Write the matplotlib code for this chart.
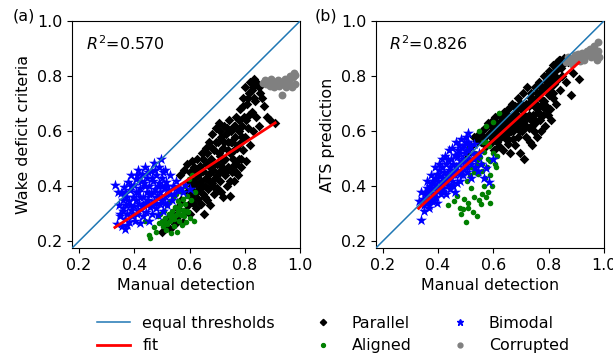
import numpy as np
import matplotlib
matplotlib.use("Agg")
import matplotlib.pyplot as plt
from matplotlib.lines import Line2D

plt.rcParams["font.size"] = 11.4

# (manual, wake deficit criteria, ATS prediction) per wake class
parallel = np.array([
    (0.500, 0.232, 0.500), (0.510, 0.250, 0.520), (0.520, 0.280, 0.545), (0.530, 0.245, 0.580),
    (0.540, 0.300, 0.565), (0.548, 0.262, 0.590), (0.555, 0.320, 0.560), (0.560, 0.290, 0.600),
    (0.565, 0.440, 0.575), (0.570, 0.350, 0.610), (0.575, 0.270, 0.545), (0.580, 0.460, 0.630),
    (0.585, 0.310, 0.590), (0.590, 0.380, 0.555), (0.592, 0.480, 0.620), (0.595, 0.330, 0.600),
    (0.598, 0.420, 0.640), (0.600, 0.300, 0.570), (0.602, 0.450, 0.530), (0.605, 0.360, 0.610),
    (0.608, 0.400, 0.650), (0.610, 0.490, 0.590), (0.612, 0.340, 0.560), (0.615, 0.430, 0.630),
    (0.618, 0.375, 0.600), (0.620, 0.460, 0.545), (0.622, 0.320, 0.660), (0.625, 0.410, 0.620),
    (0.628, 0.500, 0.580), (0.630, 0.355, 0.640), (0.632, 0.440, 0.600), (0.635, 0.390, 0.530),
    (0.638, 0.475, 0.670), (0.640, 0.335, 0.610), (0.642, 0.420, 0.575), (0.645, 0.520, 0.650),
    (0.648, 0.370, 0.630), (0.650, 0.455, 0.590), (0.652, 0.300, 0.555), (0.655, 0.400, 0.680),
    (0.658, 0.540, 0.620), (0.660, 0.430, 0.520), (0.662, 0.350, 0.650), (0.665, 0.480, 0.600),
    (0.668, 0.390, 0.700), (0.670, 0.560, 0.640), (0.672, 0.445, 0.570), (0.675, 0.330, 0.620),
    (0.678, 0.500, 0.690), (0.680, 0.410, 0.550), (0.682, 0.590, 0.660), (0.685, 0.460, 0.610),
    (0.688, 0.370, 0.720), (0.690, 0.530, 0.580), (0.692, 0.430, 0.650), (0.695, 0.610, 0.700),
    (0.698, 0.480, 0.520), (0.700, 0.395, 0.630), (0.702, 0.560, 0.680), (0.705, 0.450, 0.600),
    (0.708, 0.630, 0.740), (0.710, 0.510, 0.500), (0.712, 0.420, 0.660), (0.715, 0.580, 0.620),
    (0.718, 0.470, 0.700), (0.720, 0.360, 0.580), (0.722, 0.540, 0.760), (0.725, 0.620, 0.650),
    (0.728, 0.440, 0.610), (0.730, 0.500, 0.690), (0.732, 0.590, 0.560), (0.735, 0.400, 0.720),
    (0.738, 0.560, 0.640), (0.740, 0.470, 0.550), (0.742, 0.640, 0.700), (0.745, 0.520, 0.660),
    (0.748, 0.365, 0.600), (0.750, 0.600, 0.760), (0.752, 0.450, 0.630), (0.755, 0.560, 0.700),
    (0.758, 0.500, 0.580), (0.760, 0.620, 0.740), (0.762, 0.420, 0.670), (0.765, 0.580, 0.780),
    (0.768, 0.480, 0.640), (0.770, 0.650, 0.720), (0.772, 0.540, 0.600), (0.775, 0.440, 0.690),
    (0.778, 0.600, 0.760), (0.780, 0.500, 0.660), (0.782, 0.680, 0.800), (0.785, 0.560, 0.710),
    (0.788, 0.470, 0.620), (0.790, 0.620, 0.750), (0.792, 0.720, 0.690), (0.795, 0.530, 0.780),
    (0.798, 0.650, 0.660), (0.800, 0.580, 0.820), (0.802, 0.760, 0.730), (0.805, 0.490, 0.680),
    (0.808, 0.700, 0.790), (0.810, 0.610, 0.640), (0.815, 0.740, 0.840), (0.818, 0.550, 0.720),
    (0.820, 0.780, 0.770), (0.825, 0.670, 0.820), (0.828, 0.600, 0.700), (0.830, 0.760, 0.850),
    (0.835, 0.790, 0.790), (0.838, 0.710, 0.860), (0.840, 0.650, 0.750), (0.845, 0.770, 0.830),
    (0.850, 0.620, 0.800), (0.855, 0.740, 0.865), (0.862, 0.720, 0.780), (0.870, 0.690, 0.850),
    (0.880, 0.650, 0.730), (0.890, 0.640, 0.810), (0.910, 0.630, 0.790),
    (0.615, 0.470, 0.615), (0.625, 0.380, 0.590), (0.635, 0.450, 0.640), (0.645, 0.400, 0.600),
    (0.650, 0.500, 0.660), (0.655, 0.360, 0.570), (0.665, 0.520, 0.630), (0.670, 0.420, 0.600),
    (0.675, 0.470, 0.660), (0.680, 0.540, 0.620), (0.685, 0.400, 0.680), (0.690, 0.480, 0.640),
    (0.695, 0.560, 0.600), (0.700, 0.440, 0.700), (0.705, 0.520, 0.650), (0.710, 0.600, 0.690),
    (0.715, 0.380, 0.640), (0.720, 0.490, 0.620), (0.725, 0.560, 0.700), (0.730, 0.450, 0.660),
    (0.735, 0.610, 0.740), (0.740, 0.530, 0.620), (0.745, 0.420, 0.700), (0.750, 0.560, 0.640),
    (0.755, 0.470, 0.720), (0.760, 0.530, 0.680), (0.765, 0.620, 0.740), (0.770, 0.450, 0.660),
    (0.775, 0.550, 0.750), (0.780, 0.640, 0.700), (0.785, 0.500, 0.760), (0.790, 0.580, 0.680),
    (0.795, 0.690, 0.800), (0.805, 0.640, 0.760), (0.810, 0.720, 0.810), (0.815, 0.660, 0.740),
    (0.825, 0.750, 0.800), (0.835, 0.720, 0.830), (0.840, 0.780, 0.860), (0.850, 0.760, 0.840),
])

aligned = np.array([
    (0.438, 0.272, 0.330), (0.455, 0.222, 0.400), (0.458, 0.212, 0.345), (0.470, 0.250, 0.365),
    (0.478, 0.232, 0.320), (0.485, 0.290, 0.300), (0.490, 0.265, 0.318), (0.495, 0.300, 0.355),
    (0.500, 0.272, 0.270), (0.505, 0.255, 0.420), (0.508, 0.310, 0.322), (0.512, 0.285, 0.540),
    (0.515, 0.240, 0.440), (0.518, 0.330, 0.470), (0.520, 0.262, 0.395), (0.525, 0.300, 0.500),
    (0.528, 0.275, 0.305), (0.530, 0.345, 0.465), (0.532, 0.230, 0.360), (0.535, 0.310, 0.520),
    (0.540, 0.290, 0.290), (0.542, 0.360, 0.480), (0.545, 0.255, 0.445), (0.548, 0.325, 0.350),
    (0.550, 0.295, 0.600), (0.552, 0.370, 0.505), (0.555, 0.232, 0.335), (0.558, 0.310, 0.455),
    (0.560, 0.345, 0.370), (0.562, 0.275, 0.560), (0.565, 0.330, 0.400), (0.568, 0.295, 0.525),
    (0.570, 0.382, 0.430), (0.572, 0.260, 0.360), (0.575, 0.315, 0.620), (0.578, 0.355, 0.470),
    (0.580, 0.290, 0.500), (0.582, 0.400, 0.380), (0.585, 0.335, 0.545), (0.588, 0.270, 0.340),
    (0.590, 0.365, 0.490), (0.595, 0.305, 0.400), (0.598, 0.425, 0.520), (0.600, 0.285, 0.635),
    (0.605, 0.350, 0.480), (0.610, 0.440, 0.470), (0.615, 0.275, 0.510), (0.620, 0.380, 0.665),
    (0.510, 0.270, 0.340), (0.530, 0.290, 0.450), (0.545, 0.280, 0.500), (0.560, 0.320, 0.480),
    (0.575, 0.300, 0.560), (0.590, 0.310, 0.440),
])

bimodal = np.array([
    (0.330, 0.405, 0.345), (0.338, 0.262, 0.278), (0.345, 0.330, 0.352), (0.350, 0.290, 0.330),
    (0.352, 0.375, 0.380), (0.355, 0.255, 0.340), (0.358, 0.310, 0.368), (0.360, 0.350, 0.395),
    (0.362, 0.398, 0.372), (0.365, 0.280, 0.350), (0.368, 0.245, 0.330), (0.370, 0.330, 0.402),
    (0.372, 0.362, 0.385), (0.375, 0.300, 0.362), (0.378, 0.415, 0.410), (0.380, 0.270, 0.345),
    (0.382, 0.345, 0.420), (0.385, 0.385, 0.395), (0.388, 0.312, 0.375), (0.390, 0.440, 0.430),
    (0.392, 0.290, 0.360), (0.395, 0.362, 0.445), (0.398, 0.328, 0.400), (0.400, 0.405, 0.420),
    (0.402, 0.275, 0.385), (0.405, 0.350, 0.460), (0.408, 0.425, 0.438), (0.410, 0.300, 0.398),
    (0.412, 0.380, 0.415), (0.415, 0.460, 0.470), (0.418, 0.335, 0.430), (0.420, 0.268, 0.392),
    (0.422, 0.395, 0.452), (0.425, 0.318, 0.410), (0.428, 0.445, 0.480), (0.430, 0.360, 0.425),
    (0.432, 0.290, 0.440), (0.435, 0.410, 0.495), (0.438, 0.340, 0.405), (0.440, 0.470, 0.460),
    (0.442, 0.305, 0.470), (0.445, 0.380, 0.430), (0.448, 0.430, 0.500), (0.450, 0.350, 0.445),
    (0.452, 0.275, 0.420), (0.455, 0.400, 0.480), (0.458, 0.325, 0.455), (0.460, 0.455, 0.515),
    (0.462, 0.370, 0.440), (0.465, 0.300, 0.470), (0.468, 0.420, 0.505), (0.470, 0.345, 0.460),
    (0.472, 0.485, 0.530), (0.475, 0.390, 0.480), (0.478, 0.320, 0.445), (0.480, 0.440, 0.520),
    (0.482, 0.360, 0.490), (0.485, 0.295, 0.455), (0.488, 0.410, 0.540), (0.490, 0.470, 0.500),
    (0.492, 0.335, 0.470), (0.495, 0.380, 0.550), (0.498, 0.498, 0.520), (0.500, 0.350, 0.485),
    (0.502, 0.430, 0.560), (0.505, 0.310, 0.470), (0.508, 0.395, 0.530), (0.510, 0.460, 0.595),
    (0.512, 0.365, 0.500), (0.515, 0.415, 0.545), (0.520, 0.330, 0.480), (0.525, 0.385, 0.520),
    (0.530, 0.440, 0.555), (0.535, 0.350, 0.470), (0.540, 0.400, 0.505), (0.545, 0.370, 0.455),
    (0.550, 0.420, 0.520), (0.555, 0.385, 0.480), (0.565, 0.395, 0.430), (0.575, 0.380, 0.465),
    (0.585, 0.405, 0.415), (0.600, 0.390, 0.500),
    (0.340, 0.380, 0.380), (0.348, 0.300, 0.310), (0.360, 0.320, 0.420), (0.368, 0.380, 0.320),
    (0.375, 0.260, 0.440), (0.385, 0.330, 0.350), (0.390, 0.400, 0.470), (0.395, 0.300, 0.340),
    (0.405, 0.380, 0.480), (0.410, 0.440, 0.370), (0.415, 0.310, 0.500), (0.420, 0.360, 0.380),
    (0.425, 0.420, 0.510), (0.430, 0.330, 0.370), (0.440, 0.400, 0.530), (0.445, 0.340, 0.390),
    (0.450, 0.450, 0.540), (0.455, 0.370, 0.400), (0.460, 0.330, 0.380), (0.465, 0.430, 0.560),
    (0.470, 0.380, 0.410), (0.475, 0.460, 0.550), (0.480, 0.340, 0.420), (0.485, 0.400, 0.570),
    (0.490, 0.360, 0.440), (0.500, 0.400, 0.580), (0.505, 0.450, 0.450), (0.510, 0.340, 0.560),
    (0.520, 0.400, 0.430), (0.530, 0.370, 0.500),
])

corrupted = np.array([
    (0.865, 0.775, 0.850), (0.872, 0.785, 0.870), (0.878, 0.770, 0.855), (0.885, 0.780, 0.845),
    (0.890, 0.765, 0.865), (0.895, 0.790, 0.875), (0.900, 0.775, 0.860), (0.905, 0.760, 0.880),
    (0.910, 0.780, 0.870), (0.915, 0.770, 0.855), (0.920, 0.785, 0.885), (0.925, 0.765, 0.870),
    (0.930, 0.778, 0.860), (0.935, 0.730, 0.875), (0.940, 0.770, 0.890), (0.945, 0.790, 0.880),
    (0.950, 0.760, 0.900), (0.955, 0.775, 0.870), (0.960, 0.785, 0.885), (0.965, 0.800, 0.910),
    (0.970, 0.760, 0.875), (0.975, 0.795, 0.860), (0.978, 0.810, 0.925), (0.980, 0.770, 0.890),
    (0.982, 0.805, 0.870),
])

# linear fits (slope, intercept) and R^2 per method
fit_wdc = (0.655, 0.034)
fit_ats = (0.914, 0.018)
r2_wdc = 0.570
r2_ats = 0.826

groups = [
    ("Parallel", parallel, dict(marker="D", color="black", s=24)),
    ("Aligned", aligned, dict(marker="o", color="green", s=16)),
    ("Bimodal", bimodal, dict(marker="*", color="blue", s=70)),
    ("Corrupted", corrupted, dict(marker="o", color="grey", s=32)),
]

fig = plt.figure(figsize=(6.13, 3.57), dpi=100)
ax1 = fig.add_axes([0.1175, 0.305, 0.372, 0.636])
ax2 = fig.add_axes([0.613, 0.305, 0.372, 0.636])

panels = [
    (ax1, 1, fit_wdc, r2_wdc, "Wake deficit criteria", "(a)", 0.02),
    (ax2, 2, fit_ats, r2_ats, "ATS prediction", "(b)", 0.514),
]
for ax, col, fit, r2, ylabel, tag, tagx in panels:
    for name, d, kw in groups:
        ax.scatter(d[:, 0], d[:, col], label=name, linewidths=0, zorder=2, **kw)
    lim = np.array([0.175, 1.0])
    ax.plot(lim, lim, color="tab:blue", lw=1.1, zorder=3)
    xs = np.concatenate([parallel[:, 0], aligned[:, 0], bimodal[:, 0]])
    xf = np.array([xs.min(), xs.max()])
    ax.plot(xf, fit[0] * xf + fit[1], color="red", lw=2, zorder=4)
    ax.set_xlim(lim)
    ax.set_ylim(lim)
    ax.set_xticks([0.2, 0.4, 0.6, 0.8, 1.0])
    ax.set_yticks([0.2, 0.4, 0.6, 0.8, 1.0])
    ax.set_xlabel("Manual detection")
    ax.set_ylabel(ylabel)
    ax.text(0.06, 0.9, f"$R^2$={r2:.3f}", transform=ax.transAxes, va="center")
    fig.text(tagx, 0.955, tag, va="center")

handles = [
    Line2D([], [], color="tab:blue", lw=1.1),
    Line2D([], [], color="red", lw=2),
    Line2D([], [], ls="", marker="D", color="black", ms=3.2),
    Line2D([], [], ls="", marker="o", color="green", ms=2.8),
    Line2D([], [], ls="", marker="*", color="blue", ms=5),
    Line2D([], [], ls="", marker="o", color="grey", ms=3.5),
]
labels = ["equal thresholds", "fit", "Parallel", "Aligned", "Bimodal", "Corrupted"]
fig.legend(handles, labels, ncol=3, loc="upper left", bbox_to_anchor=(0.135, 0.156),
           frameon=False, columnspacing=2.0, handlelength=2.1, handletextpad=0.76,
           labelspacing=0.5)

fig.savefig("out.png", dpi=100)
